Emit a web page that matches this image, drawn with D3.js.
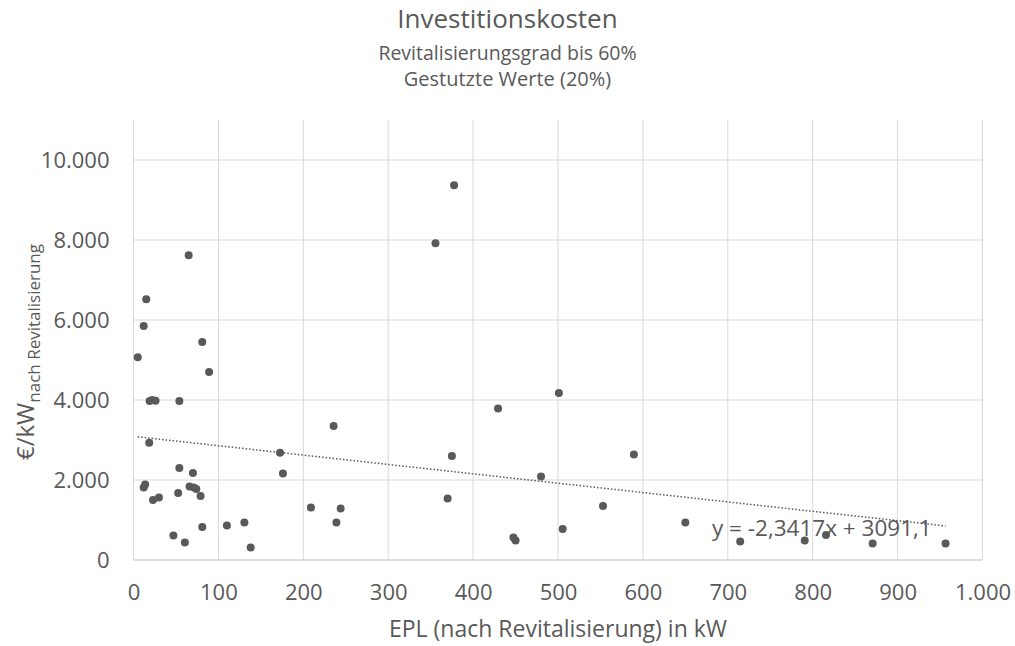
<!DOCTYPE html>
<html><head><meta charset="utf-8">
<script src="https://cdn.jsdelivr.net/npm/d3@7"></script>
<style>body{margin:0;background:#fff;} svg{display:block;} text{font-family:"Open Sans",sans-serif;fill:#595959;}</style>
</head><body>
<svg id="c" width="1015" height="646"></svg>
<script>
const titleLines = ["Investitionskosten","Revitalisierungsgrad bis 60%","Gestutzte Werte (20%)"];
const xValues = [65,15,12,81,5,89,19,22,26,54,18.5,172.6,54,70,176,13.7,12,66,71,74,79,52.6,23,30,209,81,47,60.5,110,130.6,138,377.6,355.7,235.7,244,239,375,370,429.4,501,480,553,447.5,450,505.5,589.4,650,714.6,790.6,815.7,870.6,956.5];
const yValues = [7620,6520,5850,5450,5070,4700,3975,4000,3980,3975,2930,2680,2300,2175,2165,1890,1810,1835,1810,1775,1600,1675,1500,1565,1310,825,615,435,865,940,315,9370,7920,3350,1290,935,2600,1540,3785,4175,2085,1350,565,485,775,2640,935,460,490,625,415,415];
const xTicks = [0,100,200,300,400,500,600,700,800,900,1000];
const yTicks = [0,2000,4000,6000,8000,10000];
const trendSlope = -2.3417, trendIntercept = 3091.1;
const trendLabel = "y = -2,3417x + 3091,1";
const xTitle = "EPL (nach Revitalisierung) in kW";
const yTitleMain = "€/kW", yTitleSub = "nach Revitalisierung";

const svg = d3.select("#c");
const pL = 133.5, pR = 982.5, pT = 120, pB = 560;
const x = d3.scaleLinear().domain([0,1000]).range([pL,pR]);
const y = d3.scaleLinear().domain([0,11000]).range([pB,pT]);
const fmt = d3.formatLocale({decimal:",",thousands:".",grouping:[3],currency:["","€"]}).format(",.0f");
const grid = "#d9d9d9";

svg.append("g").selectAll("line").data(yTicks.filter(d=>d>0)).join("line")
  .attr("x1",pL).attr("x2",pR).attr("y1",d=>y(d)).attr("y2",d=>y(d))
  .attr("stroke",grid).attr("stroke-width",1);
svg.append("g").selectAll("line").data(xTicks).join("line")
  .attr("y1",pT).attr("y2",pB).attr("x1",d=>x(d)).attr("x2",d=>x(d))
  .attr("stroke",grid).attr("stroke-width",1);
svg.append("line").attr("x1",pL).attr("x2",pR).attr("y1",pB).attr("y2",pB).attr("stroke","#bfbfbf");

const xAxis = svg.append("g").attr("transform",`translate(0,${pB})`)
  .call(d3.axisBottom(x).tickValues(xTicks).tickFormat(fmt).tickSize(0).tickPadding(24));
xAxis.select(".domain").remove();
xAxis.selectAll("text").attr("font-size",22).attr("fill","#595959").attr("font-family","Open Sans");
const yAxis = svg.append("g").attr("transform",`translate(${pL},0)`)
  .call(d3.axisLeft(y).tickValues(yTicks).tickFormat(fmt).tickSize(0).tickPadding(24));
yAxis.select(".domain").remove();
yAxis.selectAll("text").attr("font-size",22).attr("fill","#595959").attr("font-family","Open Sans");

const xs = d3.extent(xValues);
svg.append("line").attr("x1",x(xs[0])).attr("x2",x(xs[1]))
  .attr("y1",y(trendSlope*xs[0]+trendIntercept)).attr("y2",y(trendSlope*xs[1]+trendIntercept))
  .attr("stroke","#595959").attr("stroke-width",1.5).attr("stroke-dasharray","1.5,2");

svg.append("g").selectAll("circle").data(xValues.map((v,i)=>[v,yValues[i]])).join("circle")
  .attr("cx",d=>x(d[0])).attr("cy",d=>y(d[1])).attr("r",4).attr("fill","#595959");

svg.append("text").attr("x",712).attr("y",536).attr("font-size",22.5).text(trendLabel);

svg.append("text").attr("x",507.5).attr("y",28).attr("text-anchor","middle").attr("font-size",26).text(titleLines[0]);
svg.append("text").attr("x",507.5).attr("y",60).attr("text-anchor","middle").attr("font-size",19.5).text(titleLines[1]);
svg.append("text").attr("x",507.5).attr("y",86).attr("text-anchor","middle").attr("font-size",20).text(titleLines[2]);

svg.append("text").attr("x",(pL+pR)/2).attr("y",637).attr("text-anchor","middle").attr("font-size",23).text(xTitle);
const yt = svg.append("text").attr("transform",`translate(34,352) rotate(-90)`).attr("text-anchor","middle");
yt.append("tspan").attr("font-size",24).text(yTitleMain);
yt.append("tspan").attr("font-size",17).attr("dy",6).text(yTitleSub);
</script>
</body></html>
